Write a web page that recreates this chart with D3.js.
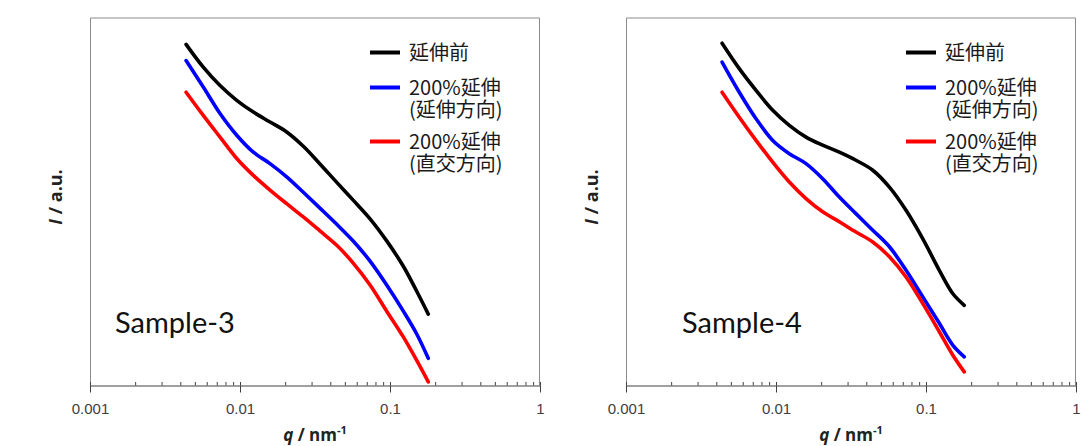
<!DOCTYPE html>
<html><head><meta charset="utf-8">
<script src="https://cdn.jsdelivr.net/npm/d3@7"></script>
<style>body{margin:0;background:#fff}svg{display:block}</style>
</head><body>
<svg id="c" width="1086" height="446"></svg>
<script>
// q grid (nm^-1) shared by all curves
const q = [0.00437,0.00569,0.00736,0.00951,0.01227,0.01585,0.02047,0.02643,0.03412,0.04416,0.05702,0.07362,0.09506,0.1227,0.1507,0.1799];
// intensities (arbitrary units, linear 0-100 on the plot)
const s3_before  = [92.7,86.5,81.5,77.5,74.3,71.6,68.9,65.0,60.2,55.2,50.3,45.3,39.3,32.4,25.6,19.4];
const s3_para    = [88.3,81.1,73.9,68.0,63.4,60.3,56.7,52.5,48.2,43.8,39.2,33.8,27.3,20.2,14.0,7.4];
const s3_perp    = [79.7,73.4,67.5,61.7,57.1,53.1,49.4,45.8,42.0,38.1,33.2,27.3,20.2,13.2,6.8,1.0];
const s4_before  = [93.0,86.1,80.2,74.8,70.7,67.5,65.3,63.4,61.2,58.5,53.9,47.6,39.9,31.3,25.0,21.8];
const s4_para    = [87.9,79.7,72.5,66.6,63.0,60.3,56.2,51.2,46.7,42.2,37.7,31.3,24.1,16.9,11.0,7.8];
const s4_perp    = [79.7,72.9,66.6,60.7,55.3,50.8,47.2,44.5,41.7,39.0,35.0,29.5,22.3,14.6,8.3,3.7];
const seriesNames = [["延伸前"],["200%延伸","(延伸方向)"],["200%延伸","(直交方向)"]];
const seriesColors = ["#000000","#0000ff","#ff0000"];
const sampleNames = ["Sample-3","Sample-4"];
const xTickLabels = ["0.001","0.01","0.1","1"];
const xDomain = [0.001, 1];

const panels = [
  {x0:90, x1:540, name:sampleNames[0], sx:115, data:[s3_before,s3_para,s3_perp]},
  {x0:626, x1:1076, name:sampleNames[1], sx:682, data:[s4_before,s4_para,s4_perp]}
];
const plotTop = 17.5, plotBottom = 385.5;
const svg = d3.select("#c");

panels.forEach(p => {
  const x = d3.scaleLog().domain(xDomain).range([p.x0, p.x1]);
  const y = d3.scaleLinear().domain([0,100]).range([plotBottom, plotTop]);
  const g = svg.append("g");
  // frame
  g.append("path").attr("d", `M${p.x0+0.5},${plotBottom}V${plotTop+0.5}H${p.x1-0.5}V${plotBottom}`)
    .attr("fill","none").attr("stroke","#8c8c8c").attr("stroke-width",1);
  // minor + major up ticks
  const allTicks = [];
  for (let d=-3; d<0; d++) for (let m=1; m<=9; m++) allTicks.push(m*Math.pow(10,d));
  allTicks.push(1);
  const up = g.append("g").attr("transform",`translate(0,${plotBottom})`)
    .call(d3.axisBottom(x).tickValues(allTicks).tickSize(-3.5).tickFormat(""));
  up.select(".domain").remove();
  up.selectAll("line").attr("stroke","#404040");
  const ax = g.append("g").attr("transform",`translate(0,${plotBottom})`)
    .call(d3.axisBottom(x).tickValues([0.001,0.01,0.1,1]).tickSize(7).tickSizeOuter(0)
      .tickFormat((d,i)=>xTickLabels[i]).tickPadding(11));
  ax.select(".domain").attr("stroke","#404040");
  ax.selectAll("line").attr("stroke","#404040");
  ax.selectAll("text").attr("font-family","'Liberation Sans',Arial,sans-serif")
    .attr("font-size",15).attr("fill","#404040");
  // curves
  const line = d3.line().x((d,i)=>x(q[i])).y(d=>y(d)).curve(d3.curveCatmullRom.alpha(0.5));
  p.data.forEach((s,k) => {
    g.append("path").datum(s).attr("d", line).attr("fill","none")
      .attr("stroke", seriesColors[k]).attr("stroke-width",3.6)
      .attr("stroke-linecap","round").attr("stroke-linejoin","round");
  });
  // legend
  const lx = p.x0 + 280, ly = [52.5, 87.5, 141.5];
  seriesNames.forEach((nm,k) => {
    g.append("line").attr("x1",lx).attr("x2",lx+30).attr("y1",ly[k]).attr("y2",ly[k])
      .attr("stroke",seriesColors[k]).attr("stroke-width",4);
    const t = g.append("text").attr("y",ly[k]+7)
      .attr("font-family","'Noto Sans CJK JP','Noto Sans',sans-serif")
      .attr("font-size",20).attr("fill","#1a1a1a");
    nm.forEach((s,j) => {
      t.append("tspan").attr("x",lx+39).attr("dy", j===0 ? 0 : 22.5).text(s);
    });
  });
  // sample name
  g.append("text").attr("x",p.sx).attr("y",333).text(p.name)
    .attr("font-family","Lato,'Open Sans',sans-serif").attr("font-size",29).attr("fill","#111");
  // axis titles
  const cx = (p.x0+p.x1)/2;
  const xt = g.append("text").attr("x",cx).attr("y",441).attr("text-anchor","middle")
    .attr("font-family","'Open Sans',sans-serif").attr("font-weight","bold").attr("font-size",17).attr("fill","#222");
  xt.append("tspan").attr("font-style","italic").text("q");
  xt.append("tspan").text(" / nm");
  xt.append("tspan").attr("font-size",11).attr("dy",-7).text("-1");
  const yt = g.append("text").attr("transform",`translate(${p.x0-28},197) rotate(-90)`)
    .attr("text-anchor","middle")
    .attr("font-family","'Open Sans',sans-serif").attr("font-weight","bold").attr("font-size",18).attr("fill","#222");
  yt.append("tspan").attr("font-style","italic").text("I");
  yt.append("tspan").text(" / a.u.");
});
</script>
</body></html>
